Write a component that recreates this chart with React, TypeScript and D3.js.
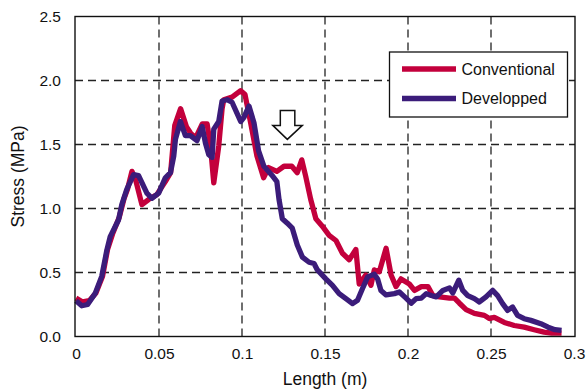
// Imports
import React, { useEffect, useRef } from "react";
import * as d3 from "d3";

// Data: [length (m), stress (MPa)]
const conventional: [number, number][] = [
  [0, 0.3], [0.004, 0.27], [0.008, 0.28], [0.012, 0.34], [0.016, 0.47], [0.019, 0.68],
  [0.022, 0.8], [0.026, 0.93], [0.029, 1.08], [0.031, 1.15], [0.0337, 1.29], [0.036, 1.22],
  [0.0397, 1.03], [0.0437, 1.07], [0.0488, 1.11], [0.0538, 1.21], [0.057, 1.28], [0.0595, 1.65],
  [0.063, 1.78], [0.0665, 1.64], [0.069, 1.59], [0.072, 1.55], [0.076, 1.66], [0.079, 1.66],
  [0.081, 1.49], [0.083, 1.2], [0.086, 1.49], [0.088, 1.78], [0.089, 1.85], [0.094, 1.87],
  [0.0992, 1.92], [0.1018, 1.89], [0.1052, 1.67], [0.109, 1.41], [0.113, 1.24], [0.116, 1.32],
  [0.121, 1.29], [0.1253, 1.33], [0.13, 1.33], [0.1333, 1.28], [0.136, 1.38], [0.1384, 1.25],
  [0.1414, 1.07], [0.1445, 0.92], [0.1485, 0.86], [0.1525, 0.79], [0.1566, 0.75], [0.1605, 0.65],
  [0.1646, 0.6], [0.1686, 0.68], [0.1706, 0.41], [0.1746, 0.48], [0.1777, 0.4], [0.1797, 0.52],
  [0.1827, 0.505], [0.1868, 0.69], [0.1898, 0.48], [0.1928, 0.39], [0.1958, 0.45], [0.2008, 0.41],
  [0.2039, 0.36], [0.208, 0.39], [0.212, 0.39], [0.215, 0.32], [0.219, 0.31], [0.225, 0.3],
  [0.228, 0.3], [0.231, 0.26], [0.235, 0.21], [0.24, 0.18], [0.246, 0.165], [0.249, 0.14],
  [0.252, 0.15], [0.258, 0.11], [0.264, 0.086], [0.27, 0.073], [0.276, 0.053], [0.282, 0.034],
  [0.2865, 0.026], [0.2925, 0.026],
];

const developped: [number, number][] = [
  [0, 0.28], [0.0035, 0.24], [0.007, 0.25], [0.0115, 0.335], [0.0155, 0.47], [0.0186, 0.675],
  [0.0206, 0.78], [0.0256, 0.91], [0.0276, 1.03], [0.0306, 1.15], [0.0347, 1.265], [0.0377, 1.257],
  [0.0427, 1.12], [0.0457, 1.08], [0.0498, 1.12], [0.0538, 1.24], [0.0569, 1.28], [0.0589, 1.41],
  [0.0599, 1.54], [0.0629, 1.68], [0.0659, 1.57], [0.0689, 1.57], [0.0729, 1.53], [0.076, 1.64],
  [0.078, 1.51], [0.08, 1.42], [0.082, 1.4], [0.083, 1.62], [0.086, 1.68], [0.088, 1.84],
  [0.091, 1.85], [0.094, 1.83], [0.0992, 1.68], [0.1011, 1.71], [0.1042, 1.8], [0.1072, 1.67],
  [0.11, 1.45], [0.1132, 1.33], [0.118, 1.26], [0.121, 1.21], [0.1223, 1.07], [0.1243, 0.92],
  [0.1273, 0.885], [0.1303, 0.846], [0.1333, 0.715], [0.1364, 0.62], [0.1404, 0.58], [0.1434, 0.57],
  [0.1454, 0.52], [0.1505, 0.45], [0.1545, 0.4], [0.1585, 0.335], [0.1626, 0.296], [0.1666, 0.257],
  [0.1696, 0.283], [0.1726, 0.375], [0.1757, 0.466], [0.1797, 0.487], [0.1817, 0.45], [0.1837, 0.36],
  [0.1868, 0.325], [0.1918, 0.335], [0.1948, 0.348], [0.1988, 0.3], [0.2019, 0.26], [0.2049, 0.296],
  [0.208, 0.3], [0.211, 0.335], [0.214, 0.32], [0.217, 0.31], [0.221, 0.36], [0.225, 0.38],
  [0.227, 0.34], [0.2306, 0.44], [0.233, 0.36], [0.236, 0.32], [0.24, 0.296], [0.243, 0.27],
  [0.247, 0.31], [0.251, 0.36], [0.254, 0.32], [0.257, 0.257], [0.26, 0.204], [0.263, 0.23],
  [0.266, 0.165], [0.27, 0.139], [0.274, 0.126], [0.28, 0.1], [0.2844, 0.073], [0.2885, 0.053],
  [0.2925, 0.047],
];

const lengthTicks = [0, 0.05, 0.1, 0.15, 0.2, 0.25, 0.3];
const stressTicks = [0, 0.5, 1, 1.5, 2, 2.5];
const seriesNames = ["Conventional", "Developped"];
const seriesColors = ["#c3003c", "#3b1c7a"];

// arrow annotation (tip position, in data units)
const arrowTip = { length: 0.1273, stress: 1.54 };

const FONT = "'Liberation Sans', Arial, Helvetica, sans-serif";

export default function App() {
  const svgRef = useRef<SVGSVGElement | null>(null);

  const width = 586;
  const height = 390;
  const left = 75;
  const right = 575;
  const top = 16.5;
  const bottom = 336.5;

  useEffect(() => {
    const svg = d3.select(svgRef.current);
    svg.selectAll("*").remove();

    const x = d3.scaleLinear().domain([0, 0.3]).range([76, 574]);
    const y = d3.scaleLinear().domain([0, 2.5]).range([bottom, top]);

    // white background
    svg.append("rect").attr("width", width).attr("height", height).attr("fill", "white");

    // dashed grid
    const grid = svg.append("g").attr("stroke", "#222").attr("stroke-width", 1.3).attr("stroke-dasharray", "8,5");
    grid.selectAll("line.v")
      .data(lengthTicks.slice(1, -1))
      .enter().append("line")
      .attr("x1", (d) => x(d)).attr("x2", (d) => x(d))
      .attr("y1", top).attr("y2", bottom);
    grid.selectAll("line.h")
      .data(stressTicks.slice(1, -1))
      .enter().append("line")
      .attr("x1", left).attr("x2", right)
      .attr("y1", (d) => y(d)).attr("y2", (d) => y(d));

    // axes (labels only)
    const xAxis = svg.append("g")
      .attr("transform", `translate(0, ${bottom})`)
      .call(d3.axisBottom(x).tickValues(lengthTicks).tickSize(0).tickPadding(11).tickFormat((d) => String(d)));
    const yAxis = svg.append("g")
      .attr("transform", `translate(${left}, 0)`)
      .call(d3.axisLeft(y).tickValues(stressTicks).tickSize(0).tickPadding(14).tickFormat(d3.format(".1f")));
    [xAxis, yAxis].forEach((a) => {
      a.select(".domain").remove();
      a.selectAll("text").attr("font-family", FONT).attr("font-size", 15.5).attr("fill", "#111");
    });

    // lines
    const line = d3.line<[number, number]>()
      .x((d) => x(d[0]))
      .y((d) => y(d[1]));
    [conventional, developped].forEach((s, i) => {
      svg.append("path")
        .datum(s)
        .attr("d", line)
        .attr("fill", "none")
        .attr("stroke", seriesColors[i])
        .attr("stroke-width", 5.3)
        .attr("stroke-linejoin", "round")
        .attr("stroke-linecap", "butt");
    });

    // frame
    svg.append("rect")
      .attr("x", left).attr("y", top)
      .attr("width", right - left).attr("height", bottom - top)
      .attr("fill", "none").attr("stroke", "#111").attr("stroke-width", 1.4);

    // down arrow
    const ax = x(arrowTip.length);
    const ay = y(arrowTip.stress);
    const arrow = [
      [ax - 7, ay - 29], [ax + 7.5, ay - 29], [ax + 7.5, ay - 14], [ax + 15, ay - 14],
      [ax, ay], [ax - 14.5, ay - 14], [ax - 7, ay - 14],
    ];
    svg.append("path")
      .attr("d", d3.line()(arrow as [number, number][]) + "Z")
      .attr("fill", "white").attr("stroke", "#111").attr("stroke-width", 1.5);

    // legend
    const legend = svg.append("g").attr("transform", "translate(389.5, 52)");
    legend.append("rect")
      .attr("width", 178).attr("height", 65)
      .attr("fill", "white").attr("stroke", "#111").attr("stroke-width", 1.3);
    seriesNames.forEach((name, i) => {
      const ly = 17 + i * 29.5;
      legend.append("line")
        .attr("x1", 12.5).attr("x2", 66.5).attr("y1", ly).attr("y2", ly)
        .attr("stroke", seriesColors[i]).attr("stroke-width", 5.5);
      legend.append("text")
        .attr("x", 72).attr("y", ly).attr("dy", "0.35em")
        .attr("font-family", FONT).attr("font-size", 16).attr("fill", "#111")
        .text(name);
    });

    // axis titles
    svg.append("text")
      .attr("x", (left + right) / 2).attr("y", 385)
      .attr("text-anchor", "middle")
      .attr("font-family", FONT).attr("font-size", 17.5).attr("fill", "#111")
      .text("Length (m)");
    svg.append("text")
      .attr("transform", `translate(24, ${(top + bottom) / 2}) rotate(-90)`)
      .attr("text-anchor", "middle")
      .attr("font-family", FONT).attr("font-size", 17.5).attr("fill", "#111")
      .text("Stress (MPa)");
  }, []);

  return (
    <svg
      ref={svgRef}
      width={width}
      height={height}
      style={{ position: "absolute", left: 0, top: 0, display: "block" }}
    ></svg>
  );
}
